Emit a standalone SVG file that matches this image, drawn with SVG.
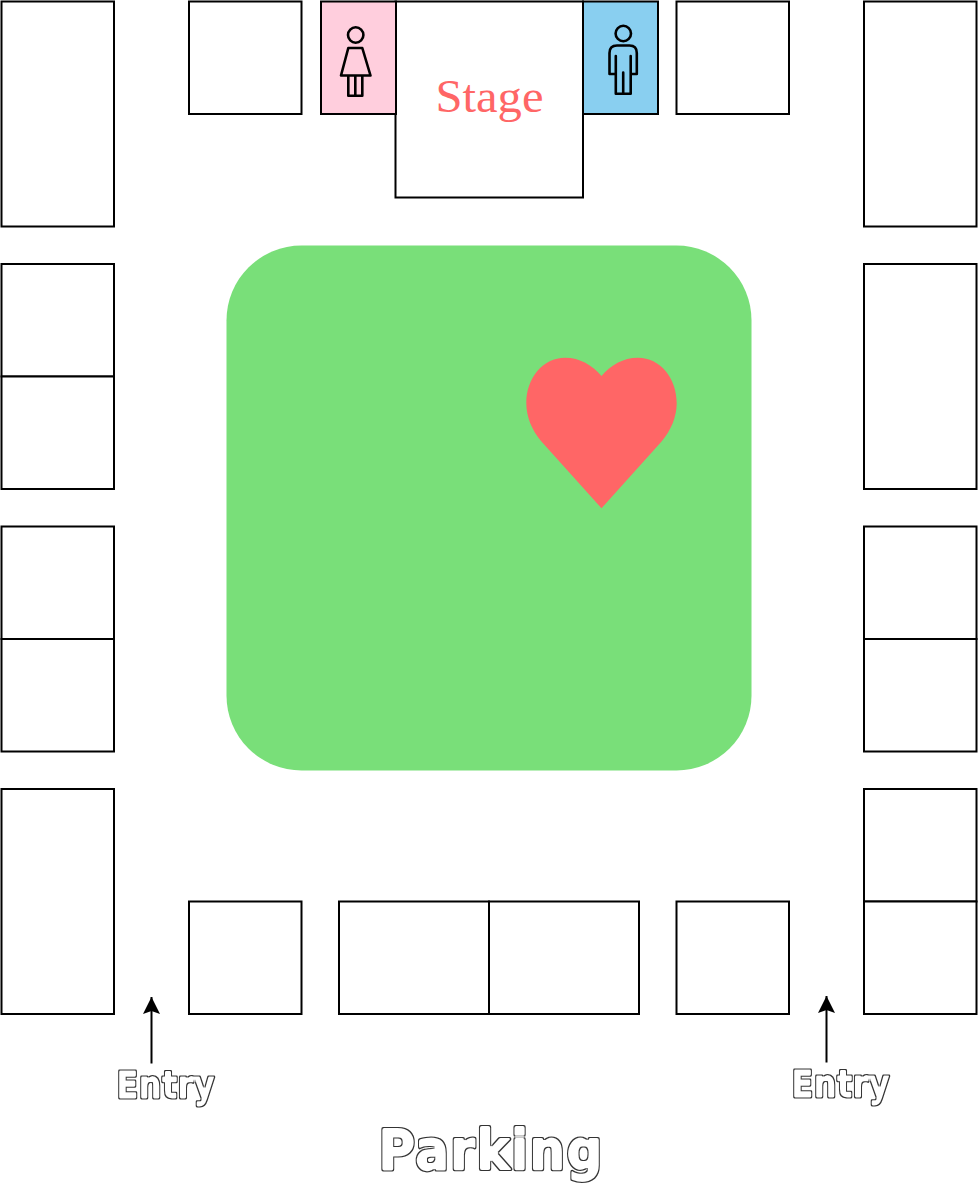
<svg xmlns="http://www.w3.org/2000/svg" width="978" height="1184" viewBox="0 0 978 1184">
<style>
.b{fill:#fff;stroke:#000;stroke-width:2}
.i{fill:none;stroke:#000;stroke-width:2.600;stroke-linejoin:round;stroke-linecap:round}
.a{fill:none;stroke:#000;stroke-width:2}
.o{font-family:"DejaVu Sans",sans-serif;font-weight:700;fill:#000;stroke:#000;stroke-linejoin:round;filter:url(#outline)}
</style>
<defs>
<marker id="h" markerUnits="userSpaceOnUse" markerWidth="20" markerHeight="20" refX="18" refY="10" orient="auto"><path d="M18 10L1 1.500L4 10L1 18.500Z" fill="#000"/></marker>
<filter id="outline" x="-5%" y="-20%" width="110%" height="140%" color-interpolation-filters="sRGB">
<feMorphology in="SourceAlpha" operator="erode" radius="0.800" result="inner"/>
<feFlood flood-color="#fff"/>
<feComposite in2="inner" operator="in" result="white"/>
<feFlood flood-color="#333"/>
<feComposite in2="SourceAlpha" operator="in" result="edge"/>
<feMerge><feMergeNode in="edge"/><feMergeNode in="white"/></feMerge>
</filter>
</defs>
<rect width="978" height="1184" fill="#fff"/>
<g id="booths-left">
<rect class="b" x="1.500" y="1.500" width="112.500" height="225"/>
<rect class="b" x="1.500" y="264" width="112.500" height="112.500"/>
<rect class="b" x="1.500" y="376.500" width="112.500" height="112.500"/>
<rect class="b" x="1.500" y="526.500" width="112.500" height="112.500"/>
<rect class="b" x="1.500" y="639" width="112.500" height="112.500"/>
<rect class="b" x="1.500" y="789" width="112.500" height="225"/>
</g>
<g id="booths-right">
<rect class="b" x="864" y="1.500" width="112.500" height="225"/>
<rect class="b" x="864" y="264" width="112.500" height="225"/>
<rect class="b" x="864" y="526.500" width="112.500" height="112.500"/>
<rect class="b" x="864" y="639" width="112.500" height="112.500"/>
<rect class="b" x="864" y="789" width="112.500" height="112.500"/>
<rect class="b" x="864" y="901.500" width="112.500" height="112.500"/>
</g>
<g id="booths-top">
<rect class="b" x="189" y="1.500" width="112.500" height="112.500"/>
<rect class="b" x="676.500" y="1.500" width="112.500" height="112.500"/>
</g>
<g id="booths-bottom">
<rect class="b" x="189" y="901.500" width="112.500" height="112.500"/>
<rect class="b" x="339" y="901.500" width="150" height="112.500"/>
<rect class="b" x="489" y="901.500" width="150" height="112.500"/>
<rect class="b" x="676.500" y="901.500" width="112.500" height="112.500"/>
</g>
<g id="stage">
<rect class="b" x="395.500" y="1.500" width="187.500" height="196"/>
<text x="489.500" y="111.500" text-anchor="middle" font-family="'Liberation Serif',serif" font-size="46" textLength="108" lengthAdjust="spacingAndGlyphs" fill="#ff6666">Stage</text>
</g>
<g id="restroom-women">
<rect x="321" y="1.500" width="75" height="112.500" fill="#ffcedd" stroke="#000" stroke-width="2"/>
<circle class="i" cx="355.700" cy="35" r="7.700"/>
<path class="i" d="M348.300 48H362.300L370.500 75.500H341ZM348.300 75.500V95.800H362.300V75.500M355.300 75.500V95.800"/>
</g>
<g id="restroom-men">
<rect x="583" y="1.500" width="75" height="112.500" fill="#89cff0" stroke="#000" stroke-width="2"/>
<circle class="i" cx="623.300" cy="33.500" r="7.700"/>
<path class="i" d="M609.500 74V53Q609.500 45.500 617 45.500H629.500Q636.800 45.500 636.800 53V74H630.700V56M630.700 74V93.800H615.800V74M615.800 56V74H609.500M623.200 72.500V93.800"/>
</g>
<g id="lawn"><rect x="226.500" y="245.500" width="525" height="525" rx="75" ry="75" fill="#79df79"/></g>
<g id="heart"><path d="M601.500 376C592 365 580 357.700 565 357.700C543 357.700 526.300 378 526.300 403C526.300 417 532 430 541 441L601.500 508.300L662 441C671 430 676.700 417 676.700 403C676.700 378 660 357.700 638 357.700C623 357.700 611 365 601.500 376Z" fill="#ff6666"/></g>
<g id="connectors">
<path class="a" d="M151.500 1063.500V997" marker-end="url(#h)"/>
<path class="a" d="M826.500 1062.500V996" marker-end="url(#h)"/>
</g>
<g id="label-entry-left"><text class="o" transform="translate(116.500 1098) scale(1 1.150)" font-size="32" stroke-width="2.500" letter-spacing="0.400">Entry</text></g>
<g id="label-entry-right"><text class="o" transform="translate(791.500 1097) scale(1 1.150)" font-size="32" stroke-width="2.500" letter-spacing="0.400">Entry</text></g>
<g id="label-parking"><text class="o" transform="translate(378.500 1169) scale(1 1.120)" font-size="50" stroke-width="3.500" letter-spacing="1.400">Parking</text></g>
</svg>
